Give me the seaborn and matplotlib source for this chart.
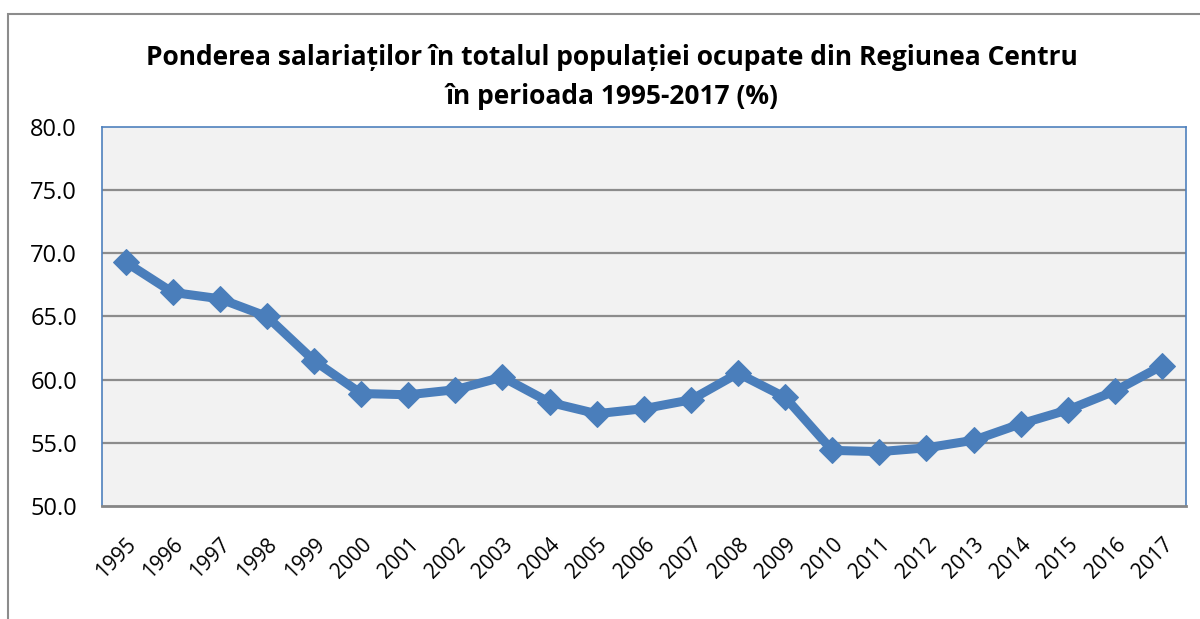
import numpy as np
import pandas as pd
import seaborn as sns
import matplotlib.pyplot as plt
from matplotlib.patches import Rectangle

years = list(range(1995, 2018))
ponderea = [69.3, 66.9, 66.4, 65.0, 61.5, 58.9, 58.8, 59.2, 60.2, 58.2, 57.3,
            57.7, 58.4, 60.5, 58.6, 54.4, 54.3, 54.6, 55.2, 56.5, 57.6, 59.1, 61.1]
y_ticks = [50, 55, 60, 65, 70, 75, 80]
title = "Ponderea salariaților în totalul populației ocupate din Regiunea Centru\nîn perioada 1995-2017 (%)"

df = pd.DataFrame({'an': years, 'pondere': ponderea})

sns.set_style("white")
plt.rcParams['font.family'] = ['Open Sans', 'DejaVu Sans']
plt.rcParams['text.color'] = 'black'

fig = plt.figure(figsize=(12, 6.19), dpi=100)
ax = fig.add_axes([0.085, 0.1826, 0.903, 0.6124])
ax.set_facecolor('#F2F2F2')

# horizontal gridlines like Excel
for t in y_ticks[1:-1]:
    ax.axhline(t, color='#8C8C8C', lw=1.6, zorder=1)

sns.lineplot(data=df, x='an', y='pondere', ax=ax, color='#4A7EBB', lw=6.5,
             marker='D', markersize=13, markeredgecolor='#4A7EBB', zorder=3)

ax.set_xlim(1994.5, 2017.5)
ax.set_ylim(50, 80)
ax.set_yticks(y_ticks)
ax.set_yticklabels([f"{t:.1f}" for t in y_ticks], fontsize=17, color='black')
ax.set_xticks(years)
ax.set_xticklabels([str(y) for y in years], rotation=45, ha='right',
                   rotation_mode='anchor', fontsize=15, color='black')
ax.tick_params(axis='y', length=0, pad=18)
ax.tick_params(axis='x', length=0, pad=20)
ax.set_xlabel('')
ax.set_ylabel('')

for s in ['left', 'right', 'top']:
    ax.spines[s].set_color('#4F81BD')
    ax.spines[s].set_linewidth(1.2)
ax.spines['bottom'].set_color('#868686')
ax.spines['bottom'].set_linewidth(2)

fig.text(0.51, 0.876, title, ha='center', va='center', fontsize=19,
         fontweight='bold', linespacing=1.55, color='black')

# outer chart frame
fig.add_artist(Rectangle((8 / 1200, -0.1), 1.2, 1.1 - 14 / 619, transform=fig.transFigure,
                         fill=False, edgecolor='#8C8C8C', lw=1.5, clip_on=False))

fig.savefig('out.png', dpi=100)
